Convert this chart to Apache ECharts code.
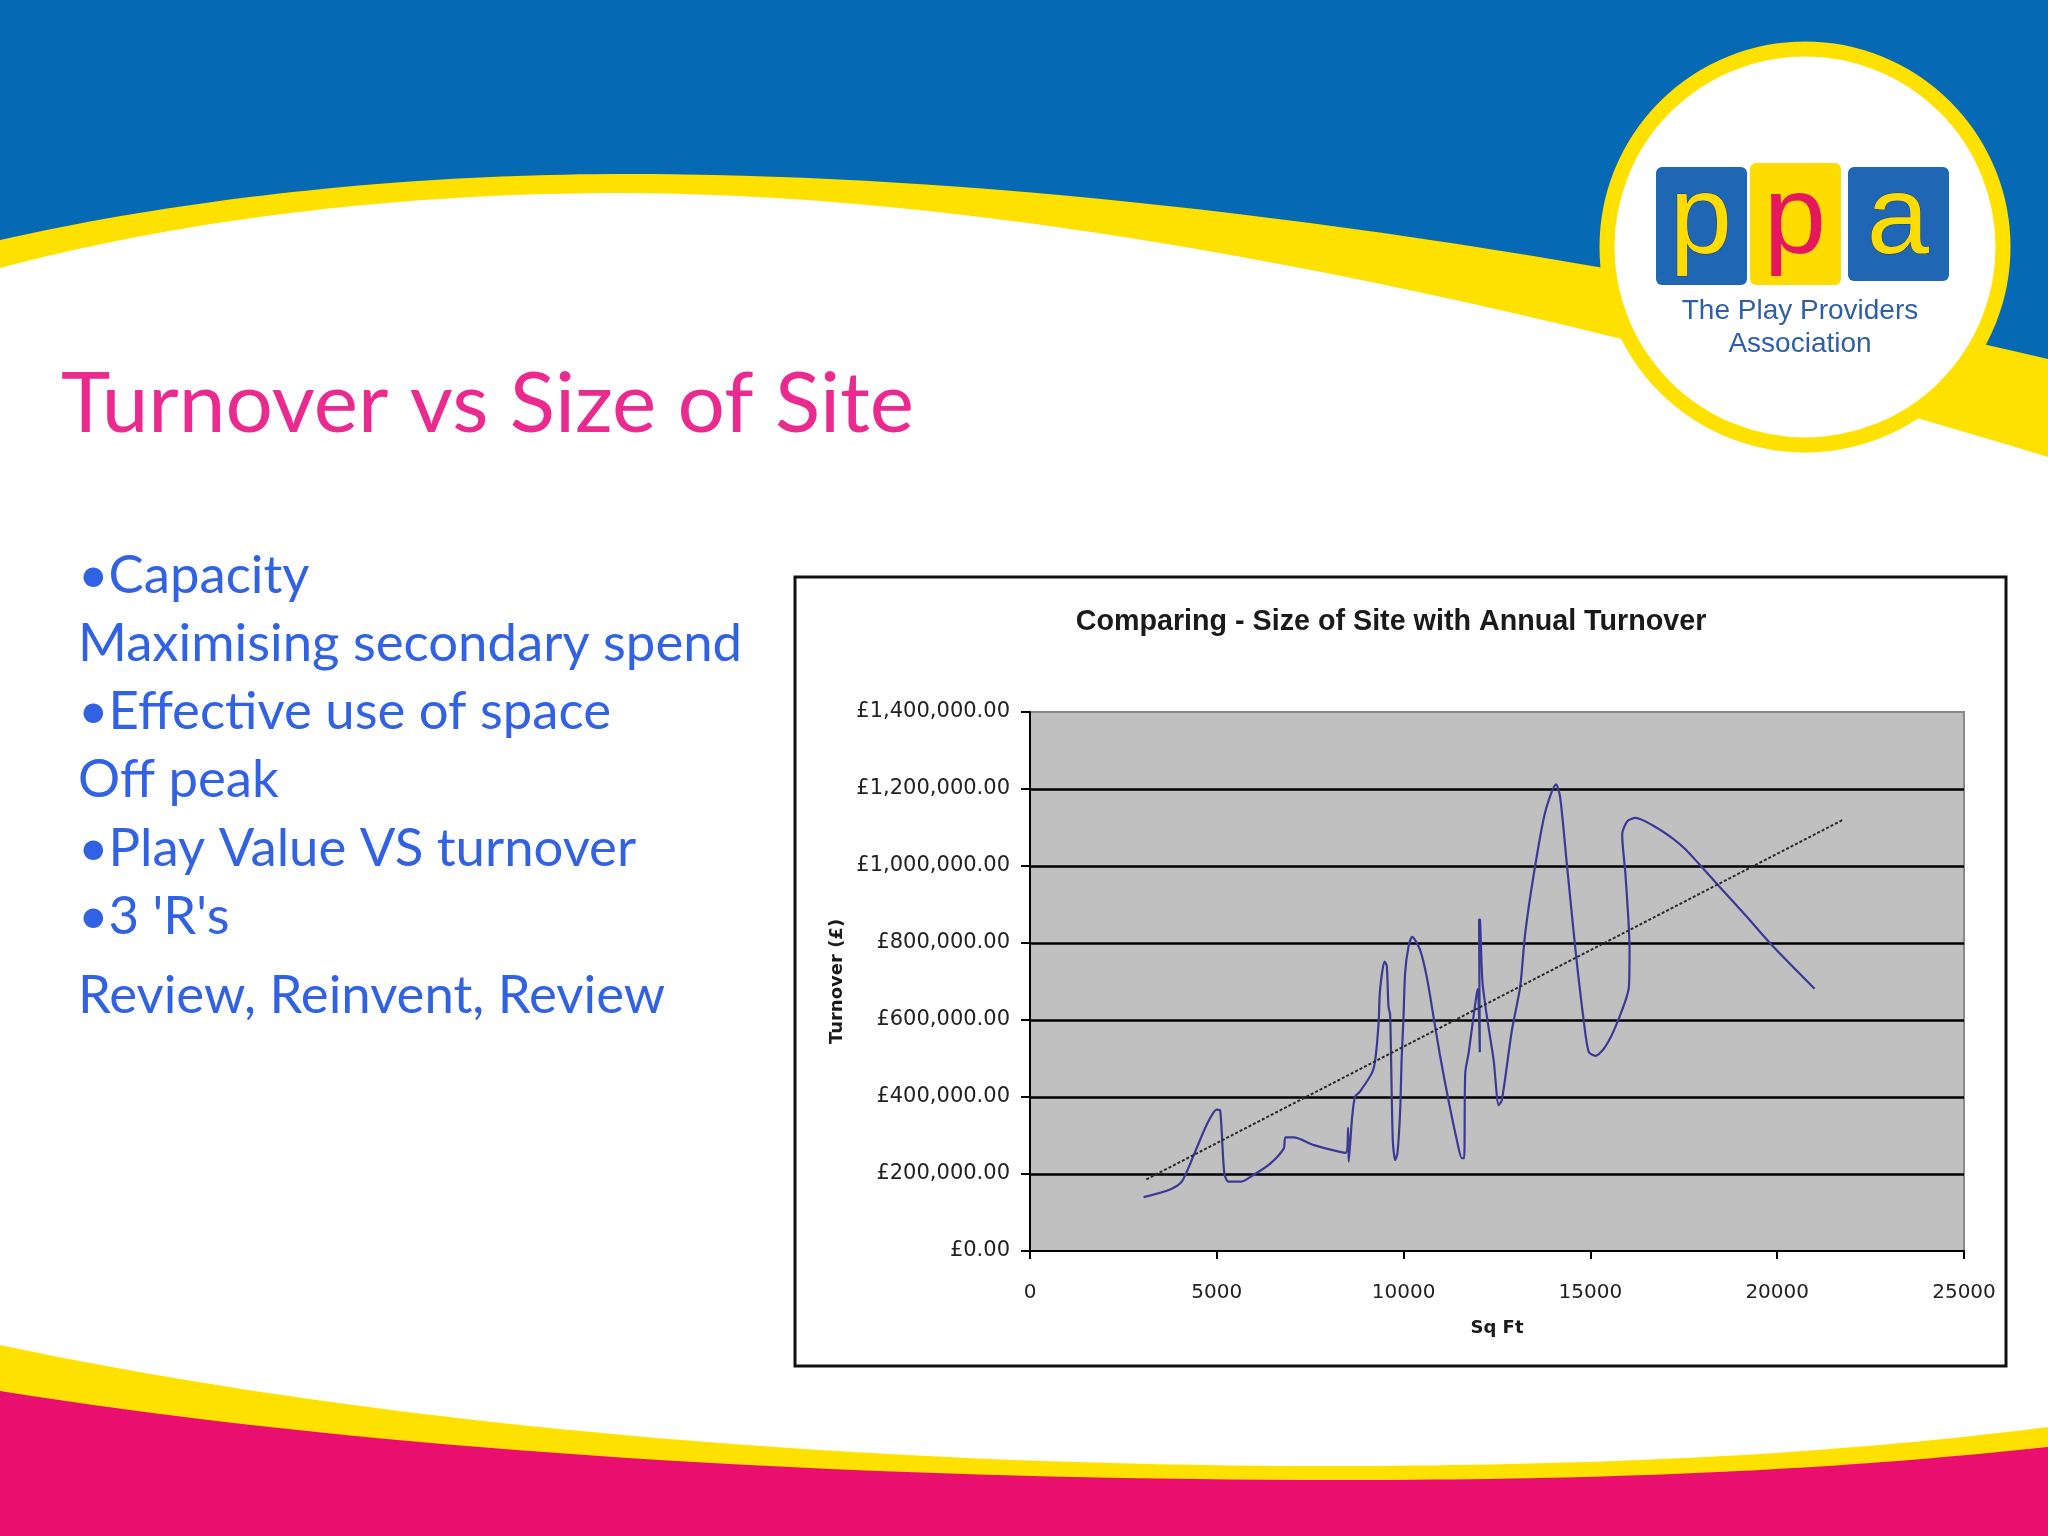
<!DOCTYPE html>
<html><head><meta charset="utf-8">
<script src="https://cdn.jsdelivr.net/npm/echarts@6/dist/echarts.min.js"></script>
<style>html,body{margin:0;padding:0;background:#fff}#c{width:2048px;height:1536px}</style>
</head><body><div id="c"></div>
<script>
// ---- text content ----
const slideTitle = 'Turnover vs Size of Site';
const bulletLines = ['\u2022Capacity', 'Maximising secondary spend', '\u2022Effective use of space', 'Off peak', '\u2022Play Value VS turnover', "\u20223 'R's", 'Review, Reinvent, Review'];
const chartTitle = 'Comparing - Size of Site with Annual Turnover';
const xAxisName = 'Sq Ft';
const yAxisName = 'Turnover (\u00a3)';
const logoLetters = ['p', 'p', 'a'];
const logoLines = ['The Play Providers', 'Association'];

// ---- axis ticks ----
const xTicks = [0, 5000, 10000, 15000, 20000, 25000];
const yTicks = [0, 200000, 400000, 600000, 800000, 1000000, 1200000, 1400000];

// ---- data: site size (sq ft) and annual turnover (GBP), in plotted order ----
const sqFt = [3040, 3750, 4060, 4370, 4730, 5000, 5090, 5200, 5310, 5630, 5990, 6430, 6790, 6840, 7060, 7600, 8450, 8515, 8530, 8620, 8700, 8830, 9150, 9240, 9330, 9370, 9490, 9550, 9595, 9640, 9710, 9775, 9835, 9905, 9950, 9995, 10040, 10130, 10230, 10440, 10620, 10800, 10980, 11200, 11425, 11560, 11620, 11650, 11740, 11870, 11960, 11990, 12040, 12020, 12045, 12110, 12230, 12410, 12545, 12630, 12900, 13120, 13250, 13480, 13790, 14080, 14190, 14370, 14600, 14820, 14955, 15135, 15400, 15720, 16030, 16048, 15940, 15850, 15985, 16210, 16660, 17200, 17550, 17910, 18450, 19170, 19880, 21000];
const turnover = [140000, 160000, 180000, 246000, 328000, 367000, 365000, 203000, 180000, 180000, 198000, 227000, 266000, 295000, 295000, 275000, 255000, 320000, 232000, 345000, 401000, 414000, 462000, 496000, 591000, 678000, 752000, 740000, 635000, 613000, 288000, 236000, 254000, 358000, 505000, 600000, 721000, 790000, 816000, 782000, 712000, 609000, 505000, 392000, 288000, 241000, 241000, 462000, 514000, 609000, 669000, 680000, 516000, 862000, 860000, 700000, 609000, 496000, 379000, 392000, 574000, 686000, 821000, 976000, 1140000, 1212000, 1179000, 1005000, 783000, 599000, 517000, 507000, 531000, 594000, 686000, 783000, 976000, 1082000, 1116000, 1125000, 1106000, 1072000, 1043000, 1005000, 947000, 870000, 792000, 681000];
// linear trend line end points
const trendSqFt = [3115, 21740];
const trendTurnover = [186000, 1119000];

// ---- helpers ----
const measureCtx = document.createElement('canvas').getContext('2d');
function fitSize(text, family, weight, targetWidth) {
  measureCtx.font = weight + ' 100px ' + family;
  return 100 * targetWidth / measureCtx.measureText(text).width;
}
function gbp(v) {
  const s = Math.round(v).toString().replace(/\B(?=(\d{3})+(?!\d))/g, ',');
  return '\u00a3' + s + '.00';
}
// decorative band outline: start point + cubic segments, closed down to the slide bottom
function band(start, segs, closeY) {
  const pts = [start.slice()];
  let p0 = start;
  segs.forEach(s => {
    const [c1, c2, p3] = s;
    for (let i = 1; i <= 40; i++) {
      const t = i / 40, u = 1 - t;
      pts.push([
        u * u * u * p0[0] + 3 * u * u * t * c1[0] + 3 * u * t * t * c2[0] + t * t * t * p3[0],
        u * u * u * p0[1] + 3 * u * u * t * c1[1] + 3 * u * t * t * c2[1] + t * t * t * p3[1]
      ]);
    }
    p0 = p3;
  });
  pts.push([2048, closeY], [0, closeY]);
  return pts;
}

const BLUE = '#0669B4', YELLOW = '#FFE100', MAGENTA = '#E80F6E', WHITE = '#FFFFFF';
const titleFont = 'Lato';
const titleSize = fitSize(slideTitle, titleFont, 'normal', 853);
const bulletSize = fitSize(bulletLines[1], titleFont, 'normal', 664);
const bulletY = [576, 644, 712, 780, 849, 917, 996];
const chartTitleSize = fitSize(chartTitle, 'Liberation Sans', 'bold', 630);

const graphics = [
  // slide decoration
  { type: 'rect', z: -100, shape: { x: 0, y: 0, width: 2048, height: 560 }, style: { fill: BLUE } },
  { type: 'polygon', z: -99, shape: { points: band([0, 240], [[[200, 195], [420, 174], [627, 174]], [[1000, 174], [1500, 230], [2048, 359]]], 1536) }, style: { fill: YELLOW } },
  { type: 'polygon', z: -98, shape: { points: band([0, 268], [[[200, 215], [420, 193], [620, 193]], [[1000, 193], [1500, 290], [2048, 457]]], 1536) }, style: { fill: WHITE } },
  { type: 'polygon', z: -97, shape: { points: band([0, 1345], [[[400, 1430], [900, 1468], [1371, 1466]], [[1650, 1464], [1850, 1452], [2048, 1427]]], 1536) }, style: { fill: YELLOW } },
  { type: 'polygon', z: -96, shape: { points: band([0, 1391], [[[400, 1455], [900, 1481], [1371, 1480]], [[1650, 1479], [1850, 1468], [2048, 1447]]], 1536) }, style: { fill: MAGENTA } },
  // logo
  { type: 'circle', z: -90, shape: { cx: 1805, cy: 247, r: 198 }, style: { fill: WHITE, stroke: YELLOW, lineWidth: 15 } },
  { type: 'rect', z: -89, shape: { x: 1656, y: 167, width: 91, height: 118, r: 6 }, style: { fill: '#1F67B5' } },
  { type: 'rect', z: -89, shape: { x: 1750, y: 163, width: 91, height: 122, r: 6 }, style: { fill: '#FFDC00' } },
  { type: 'rect', z: -89, shape: { x: 1848, y: 167, width: 101, height: 114, r: 6 }, style: { fill: '#1F67B5' } },
  { type: 'text', z: -88, x: 1701, y: 222, style: { text: logoLetters[0], fill: '#FFDC00', stroke: '#1a3f7a', lineWidth: 1, font: '112px "Liberation Sans"', align: 'center', verticalAlign: 'middle' } },
  { type: 'text', z: -88, x: 1795, y: 222, style: { text: logoLetters[1], fill: '#E5175F', font: '112px "Liberation Sans"', align: 'center', verticalAlign: 'middle' } },
  { type: 'text', z: -88, x: 1898, y: 222, style: { text: logoLetters[2], fill: '#FFDC00', stroke: '#1a3f7a', lineWidth: 1, font: '112px "Liberation Sans"', align: 'center', verticalAlign: 'middle' } },
  { type: 'text', z: -88, x: 1800, y: 311, style: { text: logoLines[0], fill: '#2E5FA6', font: '28px "Liberation Sans"', align: 'center', verticalAlign: 'middle' } },
  { type: 'text', z: -88, x: 1800, y: 344, style: { text: logoLines[1], fill: '#2E5FA6', font: '28px "Liberation Sans"', align: 'center', verticalAlign: 'middle' } },
  // slide title
  { type: 'text', x: 61, y: 405, style: { text: slideTitle, fill: '#EA2A8F', font: titleSize.toFixed(1) + 'px ' + titleFont, align: 'left', verticalAlign: 'middle' } },
  // chart frame
  { type: 'rect', z: -50, shape: { x: 795, y: 577, width: 1211, height: 789 }, style: { fill: WHITE, stroke: '#111', lineWidth: 3 } },
  { type: 'text', x: 1391, y: 622, style: { text: chartTitle, fill: '#1a1a1a', font: 'bold ' + chartTitleSize.toFixed(1) + 'px "Liberation Sans"', align: 'center', verticalAlign: 'middle' } }
];
bulletLines.forEach((t, i) => {
  graphics.push({ type: 'text', x: 78, y: bulletY[i], style: { text: t, fill: '#3262E4', font: bulletSize.toFixed(1) + 'px ' + titleFont, align: 'left', verticalAlign: 'middle' } });
});

const chart = echarts.init(document.getElementById('c'), null, { renderer: 'canvas' });
chart.setOption({
  animation: false,
  backgroundColor: 'transparent',
  graphic: graphics,
  grid: { left: 1030, right: 84, top: 712, bottom: 285, show: true, backgroundColor: '#C0C0C0', borderColor: '#8a8a8a', borderWidth: 2, containLabel: false },
  xAxis: {
    type: 'value', min: xTicks[0], max: xTicks[xTicks.length - 1], interval: xTicks[1] - xTicks[0],
    name: xAxisName, nameLocation: 'middle', nameGap: 68,
    nameTextStyle: { fontFamily: 'DejaVu Sans', fontWeight: 'bold', fontSize: 18, color: '#1a1a1a' },
    axisLine: { show: true, onZero: false, lineStyle: { color: '#000', width: 2 } },
    axisTick: { show: true, length: 8, lineStyle: { color: '#000', width: 2 } },
    axisLabel: { margin: 32, fontFamily: 'DejaVu Sans', fontSize: 20, color: '#222', formatter: v => String(v) },
    splitLine: { show: false }
  },
  yAxis: {
    type: 'value', min: yTicks[0], max: yTicks[yTicks.length - 1], interval: yTicks[1] - yTicks[0],
    name: yAxisName, nameLocation: 'middle', nameGap: 184,
    nameTextStyle: { fontFamily: 'DejaVu Sans', fontWeight: 'bold', fontSize: 18, color: '#1a1a1a' },
    axisLine: { show: true, onZero: false, lineStyle: { color: '#000', width: 2 } },
    axisTick: { show: true, length: 9, lineStyle: { color: '#000', width: 2 } },
    axisLabel: { margin: 20, fontFamily: 'DejaVu Sans', fontSize: 21, color: '#222', formatter: gbp },
    splitLine: { show: true, showMinLine: false, showMaxLine: false, lineStyle: { color: '#000', width: 2.5 } }
  },
  series: [
    {
      type: 'line', name: 'Turnover', data: sqFt.map((x, i) => [x, turnover[i]]),
      showSymbol: false, smooth: 0.25, lineStyle: { color: '#3a3a96', width: 2.2 }, z: 3
    },
    {
      type: 'line', name: 'Trend', data: trendSqFt.map((x, i) => [x, trendTurnover[i]]),
      showSymbol: false, lineStyle: { color: '#2a2a2a', width: 2, type: [3, 2] }, z: 4
    }
  ]
});
</script>
</body></html>
